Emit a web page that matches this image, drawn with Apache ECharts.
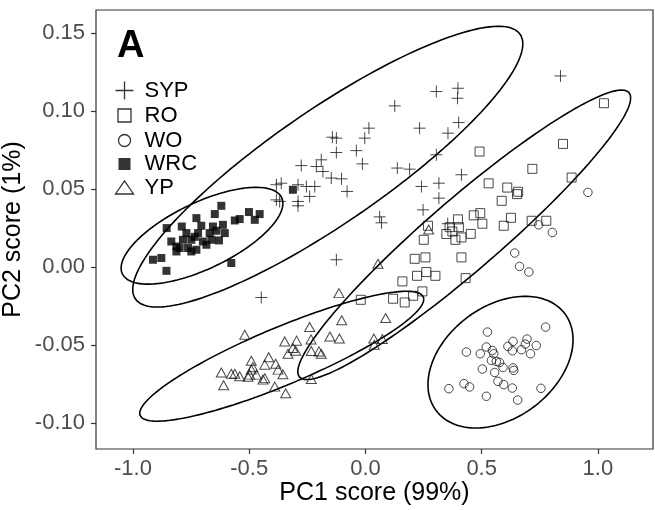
<!DOCTYPE html>
<html><head><meta charset="utf-8">
<script src="https://cdn.jsdelivr.net/npm/echarts@6/dist/echarts.min.js"></script>
<style>html,body{margin:0;padding:0;background:#fff}#c{width:655px;height:510px}</style>
</head><body><div id="c"></div>
<script>
// ---- data ----
const groups = ['SYP', 'RO', 'WO', 'WRC', 'YP'];
const xTicks = [-1.0, -0.5, 0.0, 0.5, 1.0];
const yTicks = [-0.10, -0.05, 0.00, 0.05, 0.10, 0.15];
const xTitle = 'PC1 score (99%)';
const yTitle = 'PC2 score (1%)';
const panelLabel = 'A';

const sypPoints = [[0.839,0.1226],[0.305,0.1126],[0.398,0.1147],[0.396,0.1083],[0.126,0.1034],[0.015,0.0891],[-0.003,0.0827],[0.233,0.0891],[0.355,0.0859],[0.401,0.0927],[-0.013,0.0662],[0.137,0.0635],[0.190,0.0628],[0.305,0.0720],[0.413,0.0592],[0.241,0.0517],[0.316,0.0538],[0.316,0.0442],[0.248,0.0367],[0.061,0.0322],[0.069,0.0284],[0.354,0.0278],[-0.125,0.0047],[-0.448,-0.0195],[-0.125,0.0827],[-0.142,0.0833],[-0.125,0.0735],[-0.039,0.0747],[-0.190,0.0688],[-0.276,0.0651],[-0.211,0.0645],[-0.183,0.0613],[-0.147,0.0571],[-0.103,0.0566],[-0.079,0.0485],[-0.362,0.0538],[-0.383,0.0528],[-0.290,0.0528],[-0.254,0.0517],[-0.218,0.0517],[-0.240,0.0453],[-0.383,0.0431],[-0.369,0.0421],[-0.290,0.0421],[-0.290,0.0393]];
const roPoints = [[1.026,0.1051],[0.850,0.0790],[0.491,0.0741],[0.718,0.0630],[0.887,0.0574],[0.530,0.0537],[0.610,0.0510],[0.657,0.0483],[0.652,0.0468],[0.586,0.0425],[0.466,0.0332],[0.494,0.0346],[0.503,0.0278],[0.398,0.0306],[0.626,0.0316],[0.595,0.0265],[0.715,0.0297],[0.778,0.0297],[0.362,0.0256],[0.402,0.0256],[0.269,0.0265],[0.453,0.0213],[0.348,0.0212],[0.374,0.0228],[0.413,0.0190],[0.387,0.0175],[0.251,0.0175],[0.212,0.0053],[0.258,0.0062],[0.413,0.0062],[0.222,-0.0056],[0.262,-0.0032],[0.301,-0.0056],[0.431,-0.0071],[0.159,-0.0092],[0.245,-0.0156],[0.205,-0.0184],[0.169,-0.0227],[0.119,-0.0203],[-0.020,-0.0210]];
const woPoints = [[0.957,0.0479],[0.745,0.0271],[0.804,0.0222],[0.642,0.0090],[0.663,0.0004],[0.703,-0.0032],[0.775,-0.0385],[0.525,-0.0417],[0.635,-0.0477],[0.695,-0.0462],[0.688,-0.0494],[0.735,-0.0503],[0.613,-0.0509],[0.520,-0.0513],[0.434,-0.0545],[0.494,-0.0556],[0.546,-0.0535],[0.632,-0.0537],[0.671,-0.0530],[0.710,-0.0556],[0.552,-0.0556],[0.542,-0.0599],[0.563,-0.0605],[0.577,-0.0612],[0.592,-0.0644],[0.503,-0.0654],[0.635,-0.0647],[0.638,-0.0663],[0.556,-0.0676],[0.570,-0.0733],[0.595,-0.0754],[0.632,-0.0776],[0.424,-0.0748],[0.448,-0.0769],[0.359,-0.0780],[0.755,-0.0778],[0.520,-0.0829],[0.655,-0.0853]];
const wrcPoints = [[-0.620,0.0393],[-0.648,0.0340],[-0.727,0.0314],[-0.562,0.0299],[-0.541,0.0308],[-0.501,0.0353],[-0.455,0.0340],[-0.476,0.0303],[-0.855,0.0250],[-0.790,0.0260],[-0.706,0.0265],[-0.656,0.0260],[-0.613,0.0271],[-0.770,0.0218],[-0.720,0.0218],[-0.670,0.0218],[-0.605,0.0218],[-0.641,0.0233],[-0.835,0.0164],[-0.785,0.0175],[-0.749,0.0175],[-0.699,0.0164],[-0.663,0.0175],[-0.630,0.0171],[-0.799,0.0122],[-0.763,0.0122],[-0.727,0.0111],[-0.813,0.0100],[-0.749,0.0100],[-0.684,0.0143],[-0.914,0.0047],[-0.878,0.0058],[-0.856,-0.0024],[-0.577,0.0026],[-0.312,0.0496],[-0.813,0.0132],[-0.734,0.0194]];
const ypPoints = [[0.272,0.0241],[0.054,0.0021],[-0.114,-0.0167],[-0.102,-0.0341],[0.087,-0.0327],[-0.519,-0.0434],[-0.240,-0.0384],[-0.347,-0.0477],[-0.296,-0.0472],[-0.234,-0.0464],[-0.153,-0.0445],[-0.112,-0.0458],[0.036,-0.0458],[0.073,-0.0462],[0.038,-0.0498],[-0.312,-0.0519],[-0.300,-0.0537],[-0.333,-0.0556],[-0.233,-0.0538],[-0.200,-0.0541],[-0.190,-0.0556],[-0.416,-0.0578],[-0.491,-0.0601],[-0.484,-0.0642],[-0.433,-0.0626],[-0.386,-0.0620],[-0.376,-0.0658],[-0.355,-0.0687],[-0.491,-0.0658],[-0.498,-0.0690],[-0.620,-0.0676],[-0.577,-0.0684],[-0.562,-0.0684],[-0.541,-0.0700],[-0.505,-0.0703],[-0.469,-0.0690],[-0.441,-0.0722],[-0.433,-0.0713],[-0.610,-0.0758],[-0.390,-0.0767],[-0.343,-0.0809],[-0.233,-0.0718]];

// confidence ellipses (centre, half x-extent, half vertical chord at centre, slope of chord midline), per group
const ellipseCx = [-0.162, 0.425, 0.581, -0.703, -0.360];
const ellipseCy = [0.0644, 0.0207, -0.0610, 0.0201, -0.0572];
const ellipseHalfWidth = [0.839, 0.716, 0.312, 0.348, 0.611];
const ellipseHalfHeight = [0.0436, 0.0301, 0.0397, 0.0231, 0.0199];
const ellipseSlope = [0.0939, 0.1227, 0.0462, 0.0596, 0.0599];

// ---- chart ----
const FONT = '"Liberation Sans", Arial, sans-serif';
const ink = '#1a1a1a';
function ellipse(i) {
  const pts = [];
  const n = 180;
  for (let j = 0; j <= n; j++) {
    const t = 2 * Math.PI * j / n;
    const c = Math.cos(t), s = Math.sin(t);
    pts.push([ellipseCx[i] + ellipseHalfWidth[i] * c,
              ellipseCy[i] + ellipseSlope[i] * ellipseHalfWidth[i] * c + ellipseHalfHeight[i] * s]);
  }
  return pts;
}
const hollow = { color: 'none', borderColor: ink, borderWidth: 1 };
const seriesDefs = [
  { name: 'SYP', data: sypPoints, symbol: 'path://M0,6L12,6M6,0L6,12', symbolSize: 12, itemStyle: hollow },
  { name: 'RO', data: roPoints, symbol: 'rect', symbolSize: 9, itemStyle: hollow },
  { name: 'WO', data: woPoints, symbol: 'circle', symbolSize: 8.5, itemStyle: hollow },
  { name: 'WRC', data: wrcPoints, symbol: 'rect', symbolSize: 8, itemStyle: { color: '#000', borderWidth: 0 } },
  { name: 'YP', data: ypPoints, symbol: 'triangle', symbolSize: [10, 9], itemStyle: hollow }
];
const series = seriesDefs.map(d => Object.assign({ type: 'scatter', z: 3 }, d));
groups.forEach((g, i) => series.push({
  type: 'line', name: 'ellipse-' + g, data: ellipse(i), showSymbol: false, symbol: 'none',
  smooth: false, silent: true, z: 2, lineStyle: { color: '#000', width: 1.6 }
}));

const legendIcons = {
  SYP: 'path://M0,0M24,20M0,10L18,10M9,1L9,19',
  RO: 'path://M0,0M24,20M2.5,3.5L15.5,3.5L15.5,16.5L2.5,16.5Z',
  WO: 'path://M0,0M24,20M3,10A6,6,0,1,1,15,10A6,6,0,1,1,3,10Z',
  WRC: 'path://M0,0M24,20M3,4L15,4L15,16L3,16Z',
  YP: 'path://M0,0M24,20M0,16.5L18,16.5L9,3.5Z'
};
const legendData = groups.map(g => ({
  name: g, icon: legendIcons[g],
  itemStyle: g === 'WRC' ? { color: '#000', borderWidth: 0 } : { color: 'none', borderColor: '#000', borderWidth: 1.3 }
}));

const chart = echarts.init(document.getElementById('c'), null, { renderer: 'canvas' });
chart.setOption({
  animation: false,
  backgroundColor: '#fff',
  textStyle: { fontFamily: FONT },
  title: { text: panelLabel, left: 117, top: 28, padding: 0,
    textStyle: { fontSize: 38, fontWeight: 'bold', color: '#000', fontFamily: FONT } },
  legend: {
    orient: 'vertical', left: 113, top: 78, padding: 0, itemGap: 0,
    itemWidth: 24, itemHeight: 20, selectedMode: false,
    textStyle: { fontSize: 22, lineHeight: 20, color: '#000', fontFamily: FONT },
    data: legendData
  },
  grid: { left: 96, right: 2, top: 10, bottom: 61, containLabel: false, outerBoundsMode: 'none',
    show: true, borderColor: '#333', borderWidth: 1.2, backgroundColor: '#fff' },
  xAxis: {
    type: 'value', min: -1.159, max: 1.237,
    axisLine: { show: false, onZero: false }, splitLine: { show: false },
    axisTick: { show: true, customValues: xTicks, length: 5, lineStyle: { color: '#333', width: 1.2 } },
    axisLabel: { customValues: xTicks, formatter: v => v.toFixed(1), fontSize: 22, color: '#4d4d4d', margin: 9, fontFamily: FONT },
    name: xTitle, nameLocation: 'middle', nameGap: 32, nameMoveOverlap: false,
    nameTextStyle: { fontSize: 25, color: '#000', fontFamily: FONT }
  },
  yAxis: {
    type: 'value', min: -0.1167, max: 0.1649,
    axisLine: { show: false, onZero: false }, splitLine: { show: false },
    axisTick: { show: true, customValues: yTicks, length: 5, lineStyle: { color: '#333', width: 1.2 } },
    axisLabel: { customValues: yTicks, formatter: v => v.toFixed(2), fontSize: 22, color: '#4d4d4d', margin: 11, fontFamily: FONT },
    name: yTitle, nameLocation: 'middle', nameGap: 70, nameRotate: 90, nameMoveOverlap: false,
    nameTextStyle: { fontSize: 25, color: '#000', fontFamily: FONT }
  },
  series: series
});
</script></body></html>
